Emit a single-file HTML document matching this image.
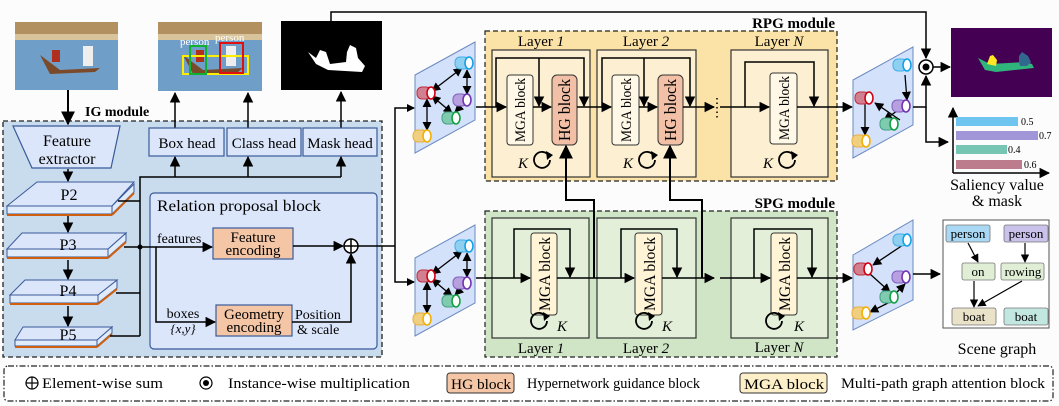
<!DOCTYPE html>
<html><head><meta charset="utf-8"><style>
html,body{margin:0;padding:0;background:#fff;}
svg{display:block;font-family:"Liberation Serif",serif;}
</style></head><body>
<svg width="1059" height="406" viewBox="0 0 1059 406" xmlns="http://www.w3.org/2000/svg">
<defs>
<marker id="a" viewBox="0 0 10 10" refX="9" refY="5" markerWidth="7" markerHeight="7" orient="auto-start-reverse"><path d="M0,0 L10,5 L0,10 z" fill="#000"/></marker>
<g id="cR"><rect x="-14" y="-6" width="14" height="12" rx="5" fill="#d08090" stroke="#c03040" stroke-width="1"/><ellipse cx="0" cy="0" rx="4" ry="6" fill="#fff" stroke="#d00010" stroke-width="1.6"/></g>
<g id="cC"><rect x="-14" y="-6" width="14" height="12" rx="5" fill="#8fd0f0" stroke="#40b0e8" stroke-width="1"/><ellipse cx="0" cy="0" rx="4" ry="6" fill="#fff" stroke="#10a0e8" stroke-width="1.6"/></g>
<g id="cP"><rect x="-14" y="-6" width="14" height="12" rx="5" fill="#b8a0e0" stroke="#8060c0" stroke-width="1"/><ellipse cx="0" cy="0" rx="4" ry="6" fill="#fff" stroke="#7030b0" stroke-width="1.6"/></g>
<g id="cG"><rect x="-14" y="-6" width="14" height="12" rx="5" fill="#80cbb0" stroke="#40a080" stroke-width="1"/><ellipse cx="0" cy="0" rx="4" ry="6" fill="#fff" stroke="#10a040" stroke-width="1.6"/></g>
<g id="cY"><rect x="-14" y="-6" width="14" height="12" rx="5" fill="#f0d080" stroke="#e8b040" stroke-width="1"/><ellipse cx="0" cy="0" rx="4" ry="6" fill="#fff" stroke="#f0b000" stroke-width="1.6"/></g>
</defs>
<rect width="1059" height="406" fill="#fcfcfc"/>

<!-- IG module -->
<rect x="3" y="121" width="379" height="236" fill="#c9dcee" stroke="#222" stroke-width="1.3" stroke-dasharray="5,3"/>
<text x="85" y="116" font-size="14" font-weight="bold">IG module</text>
<!-- images -->
<rect x="15" y="22" width="103" height="68" fill="#6f9fc8"/>
<rect x="15" y="22" width="103" height="18" fill="#b39060"/>
<rect x="15" y="34" width="103" height="6" fill="#d9c39a"/>
<path d="M40,55 L60,70 L100,68 L95,72 L50,74 Z" fill="#7a4a2a"/>
<rect x="52" y="50" width="8" height="12" fill="#b03020"/>
<rect x="83" y="46" width="10" height="20" fill="#eee"/>
<rect x="158" y="22" width="104" height="69" fill="#6f9fc8"/>
<rect x="158" y="22" width="104" height="18" fill="#b39060"/>
<rect x="158" y="34" width="104" height="6" fill="#d9c39a"/>
<path d="M183,55 L203,70 L243,68 L238,72 L193,74 Z" fill="#7a4a2a"/>
<rect x="196" y="50" width="8" height="12" fill="#b03020"/>
<rect x="226" y="46" width="10" height="20" fill="#eee"/>
<rect x="183" y="56" width="65" height="18" fill="none" stroke="#ffee00" stroke-width="2"/>
<rect x="190" y="46" width="16" height="28" fill="none" stroke="#10b030" stroke-width="2"/>
<rect x="220" y="43" width="23" height="30" fill="none" stroke="#e01010" stroke-width="2"/>
<text x="180" y="45" font-size="11" fill="#fff">person</text>
<text x="215" y="41" font-size="11" fill="#fff">person</text>
<rect x="281" y="21" width="101" height="69" fill="#000"/>
<path d="M308,52 L316,58 L320,50 L326,52 L330,64 L346,62 L347,52 L350,45 L356,48 L358,58 L365,66 L362,72 L328,70 L316,64 Z" fill="#fff"/>

<line x1="68" y1="90" x2="68" y2="124" stroke="#000" stroke-width="2" marker-end="url(#a)"/>
<line x1="175" y1="128" x2="175" y2="93" stroke="#000" stroke-width="1.5" marker-end="url(#a)"/>
<line x1="248" y1="128" x2="248" y2="93" stroke="#000" stroke-width="1.5" marker-end="url(#a)"/>
<line x1="341" y1="128" x2="341" y2="92" stroke="#000" stroke-width="1.5" marker-end="url(#a)"/>

<polygon points="13,126 120,126 111,168 32,168" fill="#dbe6fa" stroke="#3a5a9a" stroke-width="1.2"/>
<text x="67" y="146" font-size="16" text-anchor="middle">Feature</text>
<text x="67" y="164" font-size="16" text-anchor="middle">extractor</text>

<g font-size="15" text-anchor="middle">
<rect x="149" y="128" width="75" height="28" fill="#dbe6fa" stroke="#3a5a9a" stroke-width="1.2"/><text x="187" y="148">Box head</text>
<rect x="227" y="128" width="74" height="28" fill="#dbe6fa" stroke="#3a5a9a" stroke-width="1.2"/><text x="264" y="148">Class head</text>
<rect x="303" y="128" width="74" height="28" fill="#dbe6fa" stroke="#3a5a9a" stroke-width="1.2"/><text x="340" y="148">Mask head</text>
</g>
<polyline points="140,336 140,177 341,177" fill="none" stroke="#000" stroke-width="1.5"/>
<line x1="175" y1="177" x2="175" y2="157" stroke="#000" stroke-width="1.5" marker-end="url(#a)"/>
<line x1="248" y1="177" x2="248" y2="157" stroke="#000" stroke-width="1.5" marker-end="url(#a)"/>
<line x1="341" y1="177" x2="341" y2="157" stroke="#000" stroke-width="1.5" marker-end="url(#a)"/>

<!-- P slabs -->
<g stroke="#3a5a9a" stroke-width="1">
<polygon points="7,206 112,206 112,214 7,214" fill="#e0ebfb"/><line x1="7" y1="215" x2="112" y2="215" stroke="#d06010" stroke-width="2"/><polygon points="112,206 134,184 134,192 112,214" fill="#e0ebfb"/><line x1="112" y1="215" x2="134" y2="193" stroke="#d06010" stroke-width="2"/>
<polygon points="37,182 134,182 112,206 7,206" fill="#dbe6fa"/>
<polygon points="7,249 108,249 108,257 7,257" fill="#e0ebfb"/><line x1="7" y1="258" x2="108" y2="258" stroke="#d06010" stroke-width="2"/><polygon points="108,249 126,233 126,241 108,257" fill="#e0ebfb"/><line x1="108" y1="258" x2="126" y2="242" stroke="#d06010" stroke-width="2"/>
<polygon points="22,233 126,233 108,249 7,249" fill="#dbe6fa"/>
<polygon points="10,295 98,295 98,303 10,303" fill="#e0ebfb"/><line x1="10" y1="304" x2="98" y2="304" stroke="#d06010" stroke-width="2"/><polygon points="98,295 117,280 117,288 98,303" fill="#e0ebfb"/><line x1="98" y1="304" x2="117" y2="289" stroke="#d06010" stroke-width="2"/>
<polygon points="25,280 117,280 98,295 10,295" fill="#dbe6fa"/>
<polygon points="15,340 97,340 97,346 15,346" fill="#e0ebfb"/><line x1="15" y1="347" x2="97" y2="347" stroke="#d06010" stroke-width="2"/><polygon points="97,340 112,327 112,333 97,346" fill="#e0ebfb"/><line x1="97" y1="347" x2="112" y2="334" stroke="#d06010" stroke-width="2"/>
<polygon points="23,327 112,327 97,340 15,340" fill="#dbe6fa"/>
</g>
<g font-size="16" text-anchor="middle"><text x="69" y="200">P2</text><text x="68" y="250">P3</text><text x="68" y="296">P4</text><text x="68" y="340">P5</text></g>
<g stroke="#000" stroke-width="1.5">
<line x1="68" y1="169" x2="68" y2="181" marker-end="url(#a)"/>
<line x1="68" y1="216" x2="68" y2="232" marker-end="url(#a)"/>
<line x1="68" y1="260" x2="68" y2="279" marker-end="url(#a)"/>
<line x1="68" y1="306" x2="68" y2="326" marker-end="url(#a)"/>
<line x1="118" y1="201" x2="140" y2="201"/>
<line x1="124" y1="247" x2="140" y2="247"/>
<line x1="116" y1="293" x2="140" y2="293"/>
<line x1="110" y1="336" x2="140" y2="336"/>
</g>
<circle cx="140" cy="247" r="2.5" fill="#000"/>

<!-- Relation proposal block -->
<rect x="150" y="193" width="227" height="156" rx="4" fill="#dbe6fa" stroke="#3a5a9a" stroke-width="1.2"/>
<text x="157" y="211" font-size="16" textLength="164" lengthAdjust="spacingAndGlyphs">Relation proposal block</text>
<text x="157" y="243" font-size="14">features</text>
<rect x="213" y="228" width="80" height="31" fill="#f4c6a6" stroke="#3a5a9a" stroke-width="1.2"/>
<text x="253" y="242" font-size="15" text-anchor="middle">Feature</text>
<text x="253" y="255" font-size="15" text-anchor="middle">encoding</text>
<rect x="216" y="305" width="76" height="31" fill="#f4c6a6" stroke="#3a5a9a" stroke-width="1.2"/>
<text x="254" y="319" font-size="15" text-anchor="middle">Geometry</text>
<text x="254" y="332" font-size="15" text-anchor="middle">encoding</text>
<text x="183" y="318" font-size="14" text-anchor="middle">boxes</text>
<text x="183" y="333" font-size="13" text-anchor="middle" font-style="italic">{x,y}</text>
<text x="295" y="319" font-size="14">Position</text>
<text x="297" y="334" font-size="14">&amp; scale</text>
<g stroke="#000" stroke-width="1.5" fill="none">
<polyline points="140,247 156,247 156,322 215,322" marker-end="url(#a)"/>
<line x1="156" y1="247" x2="212" y2="247" marker-end="url(#a)"/>
<line x1="293" y1="246" x2="343" y2="246" marker-end="url(#a)"/>
<polyline points="292,322 351,322 351,254" marker-end="url(#a)"/>
<circle cx="351" cy="246" r="7" fill="#fff"/>
<line x1="344" y1="246" x2="358" y2="246"/><line x1="351" y1="239" x2="351" y2="253"/>
<line x1="358" y1="246" x2="395" y2="246"/>
<polyline points="414,108 395,108 395,282 414,282" stroke-width="1.5"/>
</g>
<path d="M407,104 L415,108 L407,112 Z M407,278 L415,282 L407,286 Z" fill="#000"/>

<polyline points="331,21 331,12 926,12 926,58" fill="none" stroke="#000" stroke-width="1.5" marker-end="url(#a)"/>

<!-- left graph panels -->
<g id="gl">
<polygon points="415,75 475,42 475,120 415,153" fill="#d4e1fa" stroke="#6a8ac0" stroke-width="1"/>
<g stroke="#000" stroke-width="1.3" fill="none">
<line x1="432" y1="91" x2="462" y2="68" marker-end="url(#a)" marker-start="url(#a)"/>
<line x1="467" y1="70" x2="467" y2="94" marker-end="url(#a)" marker-start="url(#a)"/>
<line x1="432" y1="96" x2="452" y2="113" marker-end="url(#a)" marker-start="url(#a)"/>
<line x1="462" y1="105" x2="455" y2="112" marker-end="url(#a)"/>
<line x1="427" y1="99" x2="427" y2="130" marker-end="url(#a)" marker-start="url(#a)"/>
</g>
<use href="#cC" x="469" y="63"/><use href="#cR" x="431" y="93"/><use href="#cP" x="467" y="100"/><use href="#cG" x="456" y="118"/><use href="#cY" x="427" y="136"/>
</g>
<use href="#gl" y="183"/>

<!-- RPG module -->
<rect x="485" y="31" width="352" height="150" fill="#fbe3a8" stroke="#222" stroke-width="1.2" stroke-dasharray="5,3"/>
<text x="835" y="28" font-size="15" font-weight="bold" text-anchor="end">RPG module</text>
<g font-size="15" text-anchor="middle"><text x="541" y="46">Layer <tspan font-style="italic">1</tspan></text><text x="646" y="46">Layer <tspan font-style="italic">2</tspan></text><text x="779" y="46">Layer <tspan font-style="italic">N</tspan></text></g>
<g fill="#fdf0d2" stroke="#333" stroke-width="1.2">
<rect x="492" y="50" width="98" height="127"/><rect x="597" y="50" width="99" height="127"/><rect x="731" y="50" width="97" height="127"/>
</g>
<g stroke="#333" stroke-width="1">
<rect x="507" y="75" width="26" height="70" rx="3" fill="#fff8e6"/>
<rect x="612" y="75" width="27" height="70" rx="3" fill="#fff8e6"/>
<rect x="770" y="73" width="27" height="71" rx="3" fill="#fff8e6"/>
<rect x="552" y="75" width="25" height="70" rx="5" fill="#f2c0a6"/>
<rect x="658" y="75" width="25" height="70" rx="5" fill="#f2c0a6"/>
</g>
<g font-size="15" text-anchor="middle">
<text transform="translate(525,110) rotate(-90)" textLength="64" lengthAdjust="spacingAndGlyphs">MGA block</text>
<text transform="translate(631,110) rotate(-90)" textLength="64" lengthAdjust="spacingAndGlyphs">MGA block</text>
<text transform="translate(789,108) rotate(-90)" textLength="64" lengthAdjust="spacingAndGlyphs">MGA block</text>
<text transform="translate(570,110) rotate(-90)" font-size="17" textLength="62" lengthAdjust="spacingAndGlyphs">HG block</text>
<text transform="translate(676,110) rotate(-90)" font-size="17" textLength="62" lengthAdjust="spacingAndGlyphs">HG block</text>
</g>
<g stroke="#000" stroke-width="1.5" fill="none">
<line x1="476" y1="107" x2="506" y2="107" marker-end="url(#a)"/>
<line x1="533" y1="107" x2="551" y2="107" marker-end="url(#a)"/>
<line x1="577" y1="107" x2="611" y2="107" marker-end="url(#a)"/>
<line x1="639" y1="107" x2="657" y2="107" marker-end="url(#a)"/>
<line x1="683" y1="107" x2="714" y2="107" marker-end="url(#a)"/>
<line x1="720" y1="107" x2="769" y2="107" marker-end="url(#a)"/>
<line x1="797" y1="107" x2="852" y2="107" marker-end="url(#a)"/>
<polyline points="496,107 496,58 584,58 584,106" marker-end="url(#a)"/>
<line x1="539" y1="58" x2="539" y2="106" marker-end="url(#a)"/>
<polyline points="602,107 602,58 690,58 690,106" marker-end="url(#a)"/>
<line x1="644" y1="58" x2="644" y2="106" marker-end="url(#a)"/>
<polyline points="745,107 745,62 814,62 814,106" marker-end="url(#a)"/>
</g>
<g stroke="#000" stroke-width="1.5" stroke-dasharray="1.5,3"><line x1="717" y1="98" x2="717" y2="118"/><line x1="717" y1="271" x2="717" y2="291"/></g>

<!-- SPG module -->
<rect x="485" y="211" width="352" height="146" fill="#d0e4c6" stroke="#222" stroke-width="1.2" stroke-dasharray="5,3"/>
<text x="835" y="208" font-size="15" font-weight="bold" text-anchor="end">SPG module</text>
<g fill="#e3efd9" stroke="#333" stroke-width="1.2">
<rect x="492" y="218" width="97" height="120"/><rect x="597" y="218" width="99" height="120"/><rect x="731" y="218" width="97" height="120"/>
</g>
<g stroke="#333" stroke-width="1" fill="#fff4d6">
<rect x="531" y="233" width="26" height="82" rx="3"/><rect x="635" y="233" width="27" height="82" rx="3"/><rect x="771" y="233" width="26" height="82" rx="3"/>
</g>
<g font-size="16" text-anchor="middle">
<text transform="translate(550,274) rotate(-90)" textLength="74" lengthAdjust="spacingAndGlyphs">MGA block</text>
<text transform="translate(655,274) rotate(-90)" textLength="74" lengthAdjust="spacingAndGlyphs">MGA block</text>
<text transform="translate(790,274) rotate(-90)" textLength="74" lengthAdjust="spacingAndGlyphs">MGA block</text>
</g>
<g font-size="15" text-anchor="middle">
<text x="541" y="353">Layer <tspan font-style="italic">1</tspan></text><text x="646" y="353">Layer <tspan font-style="italic">2</tspan></text><text x="779" y="352">Layer <tspan font-style="italic">N</tspan></text>
</g>
<g stroke="#000" stroke-width="1.5" fill="none">
<line x1="476" y1="278" x2="530" y2="278" marker-end="url(#a)"/>
<line x1="557" y1="278" x2="634" y2="278" marker-end="url(#a)"/>
<line x1="662" y1="278" x2="714" y2="278" marker-end="url(#a)"/>
<line x1="720" y1="278" x2="770" y2="278" marker-end="url(#a)"/>
<line x1="797" y1="278" x2="852" y2="278" marker-end="url(#a)"/>
<polyline points="514,278 514,229 570,229 570,277" marker-end="url(#a)"/>
<polyline points="621,278 621,229 677,229 677,277" marker-end="url(#a)"/>
<polyline points="754,278 754,229 812,229 812,277" marker-end="url(#a)"/>
<polyline points="594,278 594,200 566,200 566,146" stroke-width="2" marker-end="url(#a)"/>
<polyline points="702,278 702,200 670,200 670,146" stroke-width="2" marker-end="url(#a)"/>
</g>
<g id="kl"><path d="M549,156 A8,8 0 1 0 550,160" fill="none" stroke="#000" stroke-width="1.8"/><path d="M546,151 L553,155 L547,160 Z" fill="#000"/></g>
<g font-size="15" font-style="italic"><text x="518" y="168">K</text><text x="623" y="168">K</text><text x="763" y="168">K</text><text x="557" y="331">K</text><text x="662" y="331">K</text><text x="794" y="331">K</text></g>
<use href="#kl" x="105" y="0"/><use href="#kl" x="245" y="0"/>
<use href="#kl" x="-3" y="161"/><use href="#kl" x="102" y="161"/><use href="#kl" x="232" y="161"/>

<!-- right graph panels -->
<polygon points="853,80 913,47 913,125 853,158" fill="#d4e1fa" stroke="#6a8ac0" stroke-width="1"/>
<g stroke="#000" stroke-width="1.3" fill="none">
<line x1="905" y1="75" x2="907" y2="100" marker-end="url(#a)"/>
<line x1="900" y1="120" x2="875" y2="103" marker-end="url(#a)"/>
<line x1="897" y1="111" x2="884" y2="120" marker-end="url(#a)"/>
<line x1="865" y1="103" x2="865" y2="135" marker-end="url(#a)"/>
</g>
<use href="#cC" x="907" y="65"/><use href="#cR" x="869" y="98"/><use href="#cP" x="906" y="106"/><use href="#cG" x="894" y="124"/><use href="#cY" x="866" y="141"/>
<polygon points="853,255 913,220 913,300 853,330" fill="#d4e1fa" stroke="#6a8ac0" stroke-width="1"/>
<g stroke="#000" stroke-width="1.3" fill="none">
<line x1="903" y1="245" x2="873" y2="265" marker-end="url(#a)"/>
<line x1="870" y1="274" x2="890" y2="292" marker-end="url(#a)"/>
<line x1="897" y1="292" x2="905" y2="284" marker-end="url(#a)"/>
<line x1="890" y1="302" x2="870" y2="312" marker-end="url(#a)"/>
</g>
<use href="#cC" x="907" y="240"/><use href="#cR" x="868" y="269"/><use href="#cP" x="906" y="277"/><use href="#cG" x="894" y="297"/><use href="#cY" x="866" y="313"/>

<g stroke="#000" stroke-width="1.5" fill="none">
<polyline points="913,107 926,107 926,76" marker-end="url(#a)"/>
<polyline points="926,107 926,142 948,142" marker-end="url(#a)"/>
<line x1="933" y1="67" x2="950" y2="67" marker-end="url(#a)"/>
<line x1="913" y1="274" x2="940" y2="274" marker-end="url(#a)"/>
<circle cx="926" cy="67" r="7" fill="#fff"/>
</g>
<circle cx="926" cy="67" r="3.5" fill="#000"/>

<rect x="951" y="28" width="101" height="69" fill="#440154"/>
<path d="M978,58 L990,64 L1025,62 L1032,64 L1034,68 L996,72 L985,70 Z" fill="#2fb47c"/>
<path d="M987,64 L990,56 L993,55 L997,60 L996,66 Z" fill="#fde725"/>
<path d="M1019,62 L1019,56 L1022,52 L1028,56 L1031,62 L1027,66 L1020,66 Z" fill="#31688e"/>

<g stroke="#000" stroke-width="1.5" fill="none">
<line x1="953" y1="173" x2="953" y2="108" marker-end="url(#a)"/>
<line x1="953" y1="173" x2="1049" y2="173" marker-end="url(#a)"/>
</g>
<rect x="956" y="117" width="62" height="9" fill="#6ec5f0"/>
<rect x="956" y="131" width="82" height="9" fill="#a096d8"/>
<rect x="956" y="145" width="51" height="9" fill="#76c6b3"/>
<rect x="956" y="160" width="66" height="9" fill="#bc7c8e"/>
<g font-size="10"><text x="1021" y="125">0.5</text><text x="1039" y="139">0.7</text><text x="1008" y="153">0.4</text><text x="1024" y="168">0.6</text></g>
<text x="997" y="190" font-size="16" text-anchor="middle">Saliency value</text>
<text x="997" y="206" font-size="16" text-anchor="middle">&amp; mask</text>

<rect x="943" y="220" width="106" height="108" fill="#fff" stroke="#555" stroke-width="1"/>
<g stroke="#777" stroke-width="0.8">
<rect x="946" y="225" width="44" height="17" rx="2" fill="#a8d8f4"/>
<rect x="1004" y="225" width="44" height="17" rx="2" fill="#cbc2ec"/>
<rect x="962" y="263" width="33" height="17" rx="2" fill="#e0eed6"/>
<rect x="1001" y="263" width="43" height="17" rx="2" fill="#e0eed6"/>
<rect x="952" y="308" width="44" height="17" rx="2" fill="#e9e1c8"/>
<rect x="1004" y="308" width="44" height="17" rx="2" fill="#c2e6e0"/>
</g>
<g font-size="13" text-anchor="middle"><text x="968" y="238">person</text><text x="1026" y="238">person</text><text x="978" y="276">on</text><text x="1023" y="276">rowing</text><text x="974" y="321">boat</text><text x="1026" y="321">boat</text></g>
<g stroke="#000" stroke-width="1.2" fill="none">
<line x1="968" y1="243" x2="978" y2="262" marker-end="url(#a)"/>
<line x1="1025" y1="243" x2="1025" y2="262" marker-end="url(#a)"/>
<line x1="974" y1="281" x2="974" y2="307" marker-end="url(#a)"/>
<line x1="1022" y1="281" x2="978" y2="306" marker-end="url(#a)"/>
</g>
<text x="997" y="354" font-size="16" text-anchor="middle">Scene graph</text>

<rect x="4" y="366" width="1049" height="35" rx="4" fill="#fff" stroke="#222" stroke-width="1.2" stroke-dasharray="6,2,1.5,2"/>
<g stroke="#000" stroke-width="1.2" fill="none"><circle cx="32" cy="383" r="6"/><line x1="26" y1="383" x2="38" y2="383"/><line x1="32" y1="377" x2="32" y2="389"/><circle cx="206" cy="383" r="6"/></g>
<circle cx="206" cy="383" r="3" fill="#000"/>
<rect x="447" y="373" width="67" height="20" rx="3" fill="#f4c6a6" stroke="#333"/>
<rect x="740" y="373" width="87" height="20" rx="3" fill="#fdefc8" stroke="#333"/>
<g font-size="15">
<text x="42" y="388" textLength="121" lengthAdjust="spacingAndGlyphs">Element-wise sum</text>
<text x="228" y="388" textLength="182" lengthAdjust="spacingAndGlyphs">Instance-wise multiplication</text>
<text x="451" y="389" textLength="60" lengthAdjust="spacingAndGlyphs">HG block</text>
<text x="527" y="388" textLength="173" lengthAdjust="spacingAndGlyphs">Hypernetwork guidance block</text>
<text x="744" y="389" textLength="80" lengthAdjust="spacingAndGlyphs">MGA block</text>
<text x="841" y="388" textLength="204" lengthAdjust="spacingAndGlyphs">Multi-path graph attention block</text>
</g>
</svg>
</body></html>
